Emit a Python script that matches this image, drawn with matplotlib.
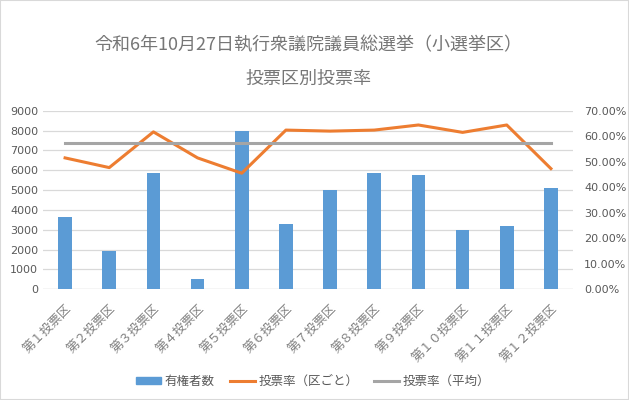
import numpy as np
import matplotlib
matplotlib.use("Agg")
import matplotlib.pyplot as plt
from matplotlib.patches import Patch, Rectangle
from matplotlib.lines import Line2D
from matplotlib.ticker import FuncFormatter

plt.rcParams['font.family'] = ['Noto Sans CJK JP', 'DejaVu Sans']

# data
districts = ['第１投票区', '第２投票区', '第３投票区', '第４投票区', '第５投票区', '第６投票区',
             '第７投票区', '第８投票区', '第９投票区', '第１０投票区', '第１１投票区', '第１２投票区']
voters = [3620, 1930, 5860, 520, 8000, 3310, 5005, 5860, 5760, 2975, 3175, 5110]
turnout = [51.5, 47.7, 61.7, 51.5, 45.5, 62.4, 62.0, 62.4, 64.4, 61.5, 64.4, 47.3]
turnout_avg = [57.2] * len(districts)

blue = '#5B9BD5'
orange = '#ED7D31'
gray = '#A5A5A5'
txt = '#595959'

fig = plt.figure(figsize=(6.29, 4.0), dpi=100)
fig.patches.append(Rectangle((0, 0), 1, 1, transform=fig.transFigure, fill=False,
                             edgecolor='#D9D9D9', lw=1.5))

ax = fig.add_axes([43 / 629, 1 - 289.3 / 400, 530 / 629, 178.6 / 400])
x = np.arange(len(districts))
ax.bar(x, voters, width=0.31, color=blue, zorder=2)
ax.set_xlim(-0.5, len(districts) - 0.5)
ax.set_ylim(0, 9000)
ax.set_yticks(np.arange(0, 9001, 1000))
ax.grid(axis='y', color='#D9D9D9', lw=0.9, zorder=0)
for s in ax.spines.values():
    s.set_visible(False)
ax.axhline(0, color='#D9D9D9', lw=0.9, zorder=1)
ax.tick_params(axis='y', length=0, colors=txt, labelsize=8)
ax.tick_params(axis='x', length=0, colors='#7f7f7f', labelsize=9, pad=9)
ax.set_xticks(x)
ax.set_xticklabels(districts, rotation=45, ha='right', rotation_mode='anchor')
for lab in ax.get_yticklabels():
    lab.set_fontfamily(['DejaVu Sans'])

ax2 = ax.twinx()
ax2.plot(x, turnout, color=orange, lw=2.2, zorder=3)
ax2.plot(x, turnout_avg, color=gray, lw=2.2, zorder=3)
ax2.set_ylim(0, 70)
ax2.set_yticks(np.arange(0, 71, 10))
ax2.yaxis.set_major_formatter(FuncFormatter(lambda v, p: f'{v:.2f}%'))
for s in ax2.spines.values():
    s.set_visible(False)
ax2.tick_params(length=0, colors=txt, labelsize=8, pad=8)
for lab in ax2.get_yticklabels():
    lab.set_fontfamily(['DejaVu Sans'])

fig.text(308 / 629, 1 - 45 / 400, '令和6年10月27日執行衆議院議員総選挙（小選挙区）',
         ha='center', va='center', fontsize=13, color='#767676')
fig.text(308 / 629, 1 - 79 / 400, '投票区別投票率',
         ha='center', va='center', fontsize=13, color='#767676')

handles = [Patch(color=blue), Line2D([], [], color=orange, lw=2.2),
           Line2D([], [], color=gray, lw=2.2)]
labels = ['有権者数', '投票率（区ごと）', '投票率（平均）']
fig.legend(handles, labels, loc='center', bbox_to_anchor=(313 / 629, 1 - 381 / 400),
           ncol=3, frameon=False, fontsize=9, labelcolor=txt,
           handlelength=2.0, handleheight=0.5, columnspacing=1.2, handletextpad=0.3)

fig.savefig('out.png', dpi=100)
